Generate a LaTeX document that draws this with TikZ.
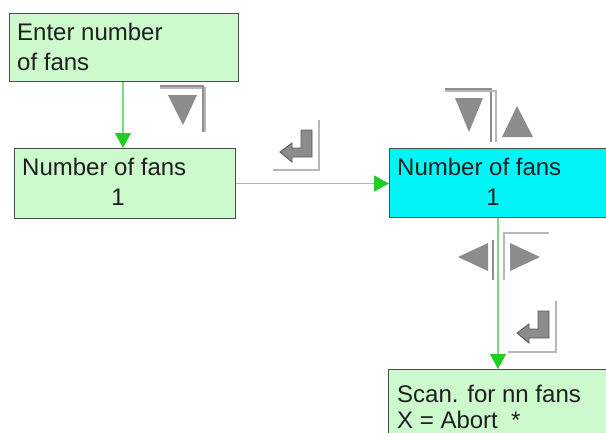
\documentclass[tikz,border=0pt]{standalone}
\usepackage{fontspec}
\setmainfont{Liberation Sans}
\usetikzlibrary{arrows.meta}

\definecolor{boxgreen}{HTML}{CCFACC}
\definecolor{boxcyan}{HTML}{00F6F6}
\definecolor{flowgreen}{HTML}{7CD87C}
\definecolor{tipgreen}{HTML}{22CC22}
\definecolor{keygray}{HTML}{8C8C8C}
\definecolor{bevellight}{HTML}{B8B8B8}
\definecolor{beveldark}{HTML}{8E8E8E}

\tikzset{
  panel/.style={draw=black!70, line width=1pt, rectangle, inner sep=0pt, anchor=north west},
  lcdtext/.style={anchor=base west, inner sep=0pt, font=\fontsize{24}{24}\selectfont, text=black!88},
  flow/.style={draw=flowgreen, line width=1.1pt,
    -{Triangle[width=16pt,length=15pt,color=tipgreen]}},
  keyglyph/.style={fill=keygray, draw=black!65, line width=0.9pt, line join=miter},
  keytri/.style={fill=keygray},
  bracketdark/.style={draw=beveldark, line width=1.2pt},
  bracketlight/.style={draw=bevellight, line width=1.6pt},
}

\begin{document}
\begin{tikzpicture}[x=1pt, y=-1pt]
  \useasboundingbox (0,0) rectangle (606,432);

  % display panels
  \node[panel, fill=boxgreen, minimum width=229pt, minimum height=68pt] (enter) at (9,13) {};
  \node[panel, fill=boxgreen, minimum width=221pt, minimum height=70pt] (count) at (14,148) {};
  \node[panel, fill=boxcyan,  minimum width=240pt, minimum height=69pt] (edit)  at (389,148) {};
  \node[panel, fill=boxgreen, minimum width=240pt, minimum height=90pt] (scan)  at (388,369) {};

  % panel texts
  \node[lcdtext] (enterA) at (17,40) {Enter number};
  \node[lcdtext] (enterB) at (17,70) {of fans};
  \node[lcdtext] (countA) at (22,175) {Number of fans};
  \node[lcdtext, anchor=base] (countB) at (118,205) {1};
  \node[lcdtext] (editA) at (397,175) {Number of fans};
  \node[lcdtext, anchor=base] (editB) at (493,205) {1};
  \node[lcdtext] (scanA) at (397,402) {Scan. for nn fans};
  \node[lcdtext] (scanB) at (397,428) {X = Abort~~*};

  % flow connectors
  \draw[flow] ([xshift=114pt]enter.south west) -- ([xshift=109pt]count.north west);
  \draw[flow] (count.east) -- (count.east -| edit.west);
  \draw[flow] ([xshift=109pt]edit.south west) -- ([xshift=110pt]scan.north west);

  % key: down
  \draw[bracketlight] (160,88) -- (205,88) -- (205,132);
  \draw[bracketdark] (160,86) -- (203,86) -- (203,132);
  \fill[keytri] (168,95) -- (197,95) -- (183,125) -- cycle;

  % key: enter (first)
  \draw[bracketlight] (319,120) -- (319,170) -- (273,170);
  \draw[keyglyph] (280,152) -- (292,143) -- (292,148) -- (301,148) -- (301,130)
    -- (312,130) -- (312,157) -- (292,157) -- (292,162) -- cycle;

  % keys: down / up
  \draw[bracketdark] (445,89) -- (491,89) -- (491,142);
  \draw[bracketlight] (445,91) -- (496,91) -- (496,142);
  \fill[keytri] (455,98) -- (483,98) -- (469,132) -- cycle;
  \fill[keytri] (502,137) -- (533,137) -- (517,106) -- cycle;

  % keys: left / right
  \draw[beveldark, line width=2.5pt] (493,240) -- (493,280);
  \draw[bracketlight] (504,280) -- (504,233) -- (549,233);
  \fill[keytri] (458,257) -- (488,243) -- (488,271) -- cycle;
  \fill[keytri] (540,257) -- (510,243) -- (510,271) -- cycle;

  % key: enter (second)
  \draw[bracketlight] (556,301) -- (556,352) -- (508,352);
  \draw[keyglyph] (517,333) -- (529,324) -- (529,329) -- (538,329) -- (538,311)
    -- (549,311) -- (549,338) -- (529,338) -- (529,343) -- cycle;
\end{tikzpicture}
\end{document}
